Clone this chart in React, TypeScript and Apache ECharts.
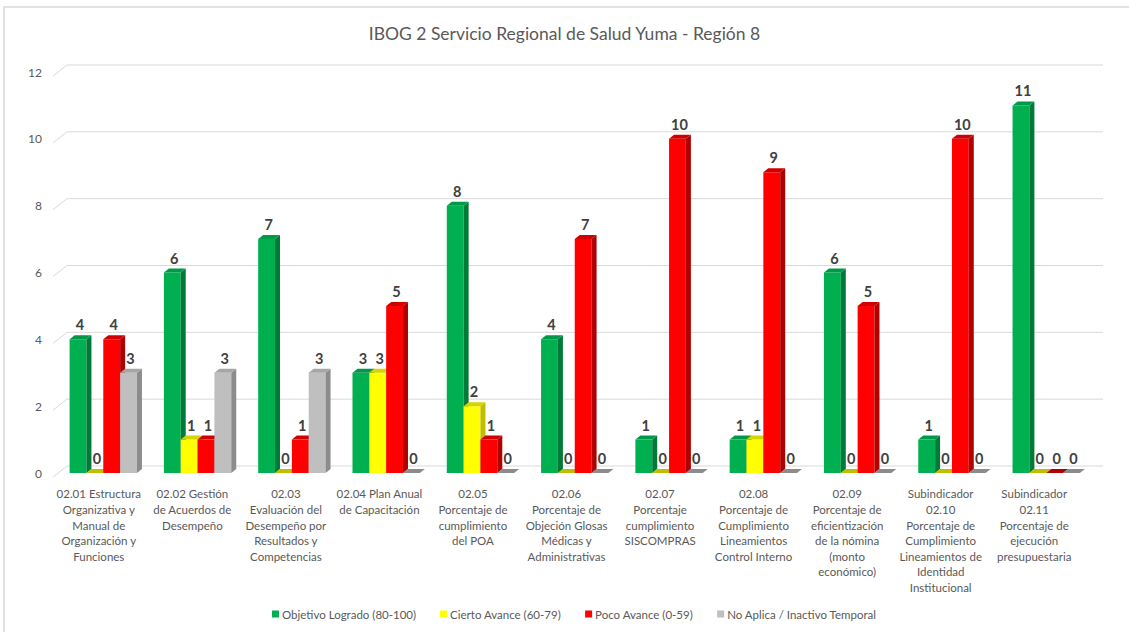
import React, { useEffect, useRef } from "react";
import * as echarts from "echarts";

const TITLE = "IBOG 2 Servicio Regional de Salud Yuma - Región 8";

const categories = [
  "02.01 Estructura\nOrganizativa y\nManual de\nOrganización y\nFunciones",
  "02.02 Gestión\nde Acuerdos de\nDesempeño",
  "02.03\nEvaluación del\nDesempeño por\nResultados y\nCompetencias",
  "02.04 Plan Anual\nde Capacitación",
  "02.05\nPorcentaje de\ncumplimiento\ndel POA",
  "02.06\nPorcentaje de\nObjeción Glosas\nMédicas y\nAdministrativas",
  "02.07\nPorcentaje\ncumplimiento\nSISCOMPRAS",
  "02.08\nPorcentaje de\nCumplimiento\nLineamientos\nControl Interno",
  "02.09\nPorcentaje de\neficientización\nde la nómina\n(monto\neconómico)",
  "Subindicador\n02.10\nPorcentaje de\nCumplimiento\nLineamientos de\nIdentidad\nInstitucional",
  "Subindicador\n02.11\nPorcentaje de\nejecución\npresupuestaria",
];

const seriesNames = [
  "Objetivo Logrado (80-100)",
  "Cierto Avance (60-79)",
  "Poco Avance (0-59)",
  "No Aplica / Inactivo Temporal",
];

const objetivoLogrado = [4, 6, 7, 3, 8, 4, 1, 1, 6, 1, 11];
const ciertoAvance = [0, 1, 0, 3, 2, 0, 0, 1, 0, 0, 0];
const pocoAvance = [4, 1, 1, 5, 1, 7, 10, 9, 5, 10, 0];
const noAplica = [3, 3, 3, 0, 0, 0, 0, 0, 0, 0, 0];

const yTicks = [0, 2, 4, 6, 8, 10, 12];

const frontColors = ["#00B050", "#FFFF00", "#FF0000", "#BFBFBF"];
const sideColors = ["#007A38", "#BFBF00", "#B00000", "#8C8C8C"];
const topColors = ["#00994A", "#D4D400", "#D00000", "#A6A6A6"];

const allValues = [objetivoLogrado, ciertoAvance, pocoAvance, noAplica];

export default function App() {
  const ref = useRef<HTMLDivElement>(null);

  useEffect(() => {
    if (!ref.current) return;
    const chart = echarts.init(ref.current, null, { renderer: "svg" });

    const DX = 5;
    const DY = 4;

    const barSeries = allValues.map((vals, s) => ({
      type: "custom",
      name: seriesNames[s],
      itemStyle: { color: frontColors[s] },
      z: 3,
      data: vals.map((v, i) => [i, v]),
      encode: { x: 0, y: 1 },
      renderItem: (params: any, api: any) => {
        const ci = api.value(0);
        const v = api.value(1);
        const base = api.coord([ci, 0]);
        const top = api.coord([ci, v]);
        const bw = api.size([1, 0])[0] * 0.18;
        const shift = 4.5 + ci * 0.75;
        const x0 = base[0] + shift + (s - 2) * bw;
        const yT = top[1];
        const yB = base[1];
        const children: any[] = [];
        if (yB - yT > 0.5) {
          children.push({
            type: "rect",
            shape: { x: x0, y: yT, width: bw, height: yB - yT },
            style: { fill: frontColors[s] },
          });
          children.push({
            type: "polygon",
            shape: {
              points: [
                [x0 + bw, yT],
                [x0 + bw + DX, yT - DY],
                [x0 + bw + DX, yB - DY],
                [x0 + bw, yB],
              ],
            },
            style: { fill: sideColors[s] },
          });
        }
        children.push({
          type: "polygon",
          shape: {
            points: [
              [x0, yT],
              [x0 + DX, yT - DY],
              [x0 + bw + DX, yT - DY],
              [x0 + bw, yT],
            ],
          },
          style: { fill: v === 0 ? sideColors[s] : topColors[s] },
        });
        children.push({
          type: "text",
          style: {
            text: String(v),
            x: x0 + bw / 2 + 2,
            y: yT - DY - 3,
            align: "center",
            verticalAlign: "bottom",
            fontFamily: "Lato, 'Liberation Sans', sans-serif",
            fontWeight: "bold",
            fontSize: 14.5,
            fill: "#404040",
          },
        });
        return { type: "group", children };
      },
    }));

    const gridSeries = {
      type: "custom",
      name: "grid",
      z: 1,
      silent: true,
      data: yTicks.map((t) => [0, t]),
      encode: { x: 0, y: 1 },
      renderItem: (params: any, api: any) => {
        const p = api.coord([0, api.value(1)]);
        const cs = params.coordSys;
        const y = p[1];
        return {
          type: "group",
          children: [
            {
              type: "line",
              shape: { x1: cs.x + 1, y1: y + 4, x2: cs.x + 15, y2: y - 7 },
              style: { stroke: "#D9D9D9", lineWidth: 1 },
            },
            {
              type: "line",
              shape: { x1: cs.x + 15, y1: y - 7, x2: cs.x + cs.width + 22, y2: y - 7 },
              style: { stroke: "#D9D9D9", lineWidth: 1 },
            },
          ],
        };
      },
    };

    const option: any = {
      animation: false,
      backgroundColor: "#FFFFFF",
      color: frontColors,
      textStyle: { fontFamily: "Lato, 'Liberation Sans', sans-serif" },
      title: {
        text: TITLE,
        left: "center",
        top: 19,
        textStyle: {
          fontSize: 17.5,
          fontWeight: "normal",
          color: "#595959",
          fontFamily: "Lato, 'Liberation Sans', sans-serif",
        },
      },
      graphic: [
        {
          type: "rect",
          shape: { x: 4, y: 7, width: 1200, height: 700 },
          style: { fill: "none", stroke: "#D9D9D9", lineWidth: 1.5 },
          silent: true,
          z: 0,
        },
      ],
      legend: {
        data: seriesNames,
        bottom: 7,
        left: 567,
        itemWidth: 7,
        itemHeight: 7,
        icon: "rect",
        itemGap: 24,
        textStyle: { color: "#595959", fontSize: 11.5, padding: [0, 0, 0, -2] },
      },
      grid: { left: 52, right: 48, top: 72, bottom: 159 },
      xAxis: {
        type: "category",
        data: categories,
        axisLine: { show: false },
        axisTick: { show: false },
        axisLabel: {
          interval: 0,
          margin: 13,
          color: "#595959",
          fontSize: 11.5,
          lineHeight: 15.6,
        },
      },
      yAxis: {
        type: "value",
        min: 0,
        max: 12,
        interval: 2,
        axisLine: { show: false },
        axisTick: { show: false },
        splitLine: { show: false },
        axisLabel: { color: "#595959", fontSize: 12, margin: 10, padding: [8, 0, 0, 0] },
      },
      series: [gridSeries, ...barSeries],
    };

    chart.setOption(option);
    const legendWidth = 606;
    chart.setOption({ legend: { left: 570 - legendWidth / 2 } });
    return () => chart.dispose();
  }, []);

  return (
    <div
      ref={ref}
      style={{ position: "fixed", left: 0, top: 0, width: 1129, height: 632 }}
    />
  );
}
